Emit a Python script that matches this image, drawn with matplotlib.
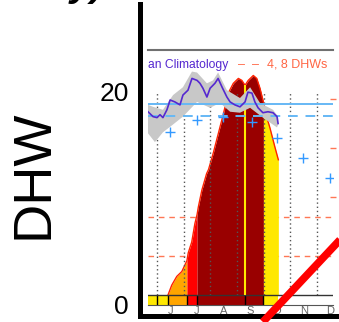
"""
DHW panel: embedded Coral Reef Watch style heat-stress chart on a DHW axis.
"""
import numpy as np
import matplotlib.pyplot as plt
from matplotlib.lines import Line2D

plt.rcParams['font.family'] = ['Liberation Sans', 'DejaVu Sans']

# ---- data (x in months from Jan 1, y in DHW) ----
outer_ticks = [0, 20]

dhw_x = [5.41, 5.55, 5.74, 5.93, 6.05, 6.12, 6.17, 6.30, 6.42, 6.50, 6.55, 6.68,
         6.86, 6.93, 7.11, 7.30, 7.49, 7.67, 7.86, 8.05, 8.18, 8.30, 8.42,
         8.61, 8.74, 8.86, 8.99, 9.11, 9.24, 9.42, 9.55]
dhw_y = [0.0, 1.0, 1.9, 2.4, 3.1, 3.5, 4.3, 5.4, 7.3, 8.2, 9.0, 10.7,
         12.4, 12.8, 14.5, 16.5, 18.5, 20.6, 21.6, 22.1, 21.9, 21.4, 21.9,
         22.4, 22.1, 21.1, 19.7, 18.2, 17.0, 15.1, 13.8]

# alert level boundaries along the curve and their colours
alert_edges = [5.41, 6.12, 6.50, 8.99, 9.55]
alert_colors = ['#FFA500', '#FF0000', '#990000', '#FFE800']

# daily alert strip under the chart
strip_edges = [4.66, 5.00, 5.41, 6.12, 6.50, 8.30, 8.99, 9.55]
strip_colors = ['#FFE800', '#FFE800', '#FFA500', '#FF0000', '#990000', '#990000', '#FFE800']
strip_marks = [5.00, 5.41, 6.12, 6.50, 8.30, 8.99]

today = 8.30
today_dhw = 21.4

sst_x = [4.66, 4.85, 5.00, 5.11, 5.22, 5.37, 5.49, 5.67, 5.86, 5.97, 6.16, 6.31,
         6.50, 6.61, 6.72, 6.87, 6.99, 7.17, 7.29, 7.44, 7.62, 7.74, 7.92,
         8.11, 8.30, 8.41, 8.56, 8.67, 8.79, 8.97, 9.16, 9.35, 9.50, 9.54]
sst_y = [18.7, 18.2, 18.1, 18.4, 18.1, 18.9, 19.9, 19.7, 19.4, 20.4, 20.9, 22.1,
         21.9, 21.6, 21.1, 20.2, 21.1, 21.6, 22.1, 21.2, 20.2, 19.7, 19.4,
         19.2, 19.7, 20.7, 20.6, 19.7, 19.1, 18.6, 18.7, 18.6, 18.2, 17.5]

band_hi_x = [4.66, 4.85, 5.22, 5.60, 5.97, 6.31, 6.50, 6.87, 7.10, 7.29, 7.62,
             8.11, 8.49, 8.86, 9.35, 9.54]
band_hi_y = [19.4, 19.2, 18.9, 20.4, 21.2, 22.8, 22.7, 21.6, 21.9, 22.7, 20.9,
             20.1, 21.2, 19.6, 18.9, 18.2]
band_lo_x = [4.66, 4.92, 5.22, 5.60, 5.97, 6.50, 6.99, 7.36, 7.74, 8.11, 8.49,
             8.97, 9.50, 9.54]
band_lo_y = [16.5, 15.6, 16.6, 17.4, 18.2, 19.7, 19.1, 19.6, 18.7, 18.6, 19.1,
             18.1, 17.1, 17.4]

clim_x = [5.49, 6.50, 7.47, 8.56, 9.50, 10.47, 11.49]
clim_y = [16.6, 17.9, 18.2, 17.7, 16.0, 14.0, 11.9]

mmm_level = 19.5
thresh_level = 18.3
dhw_levels = [4, 8]
right_ticks = [5, 10, 15, 20]

month_starts = [5, 6, 7, 8, 9, 10, 11]
month_mid = [5.5, 6.5, 7.5, 8.5, 9.5, 10.5, 11.5]
month_labels = ['J', 'J', 'A', 'S', 'O', 'N', 'D']

strike_x = [8.97, 12.3]
strike_y = [-2.75, 6.9]

W, H = 339, 322
fig = plt.figure(figsize=(W / 100, H / 100), dpi=100)

# ---- embedded chart ----
ax = fig.add_axes([148 / W, (H - 305) / H, (333 - 148) / W, (305 - 50) / H])
ax.set_zorder(1)
ax.set_xlim(4.66, 11.6)
ax.set_ylim(-1.02, 25)

x = np.array(dhw_x)
y = np.array(dhw_y)
for a, b, c in zip(alert_edges[:-1], alert_edges[1:], alert_colors):
    m = (x >= a) & (x <= b)
    ax.fill_between(x, 0, y, where=m, color=c, lw=0, zorder=1)
ax.plot(x, y, color='#FF2200', lw=1, zorder=2)

ax.hlines(dhw_levels, 4.66, 11.6, colors='#FF7755', linestyles=(0, (4, 3.5)), lw=1, zorder=0.5)
ax.vlines(month_starts, 0, 20.7, colors='#555555', linestyles=(0, (1, 2)), lw=1, zorder=2)
ax.vlines(today, 0, today_dhw, colors='#FFE800', lw=1.5, zorder=2.5)

ax.fill(list(band_hi_x) + band_lo_x[::-1], list(band_hi_y) + band_lo_y[::-1],
        color='#C8C8C8', lw=0, zorder=3)
ax.axhline(mmm_level, color='#66B8F5', lw=1.4, zorder=4)
ax.axhline(thresh_level, color='#66B8F5', lw=1.4, ls=(0, (5, 4)), zorder=4)
ax.plot(sst_x, sst_y, color='#5528D0', lw=1.2, zorder=5)
ax.plot(clim_x, clim_y, ls='none', marker='+', ms=7, mew=1, color='#3399FF', zorder=5)

widths = np.diff(strip_edges)
ax.bar(strip_edges[:-1], 1.02, width=widths, bottom=-1.02, align='edge',
       color=strip_colors, lw=0, zorder=1)
ax.vlines(strip_marks, -1.02, 0, colors='black', lw=1, zorder=2)
ax.axhline(0, color='#333333', lw=1, zorder=2)

# legend fragments at the top of the embedded chart
ax.text(4.66, 23.5, 'an Climatology', color='#5528D0', fontsize=8.7, va='center')
ax.text(8.03, 23.5, '\u2013  \u2013', color='#FF6644', fontsize=9, va='center')
ax.text(9.12, 23.5, '4, 8 DHWs', color='#FF6644', fontsize=9, va='center')

ax.set_xticks(month_mid)
ax.set_xticklabels(month_labels, color='#666666', fontsize=8)
ax.tick_params(axis='x', length=0, pad=1)
ax.yaxis.tick_right()
ax.set_yticks(right_ticks)
ax.tick_params(axis='y', right=True, labelright=False, length=4, width=1,
               color='#FF7755', direction='inout')
for s in ['left', 'right']:
    ax.spines[s].set_visible(False)
ax.spines['top'].set_color('#707070')
ax.spines['top'].set_linewidth(1.5)
ax.spines['bottom'].set_color('#555555')
ax.spines['bottom'].set_linewidth(0.8)

# ---- outer DHW axes ----
ox = fig.add_axes([140 / W, (H - 316) / H, 1 - 140 / W, 312 / H])
ox.set_zorder(2)
ox.patch.set_visible(False)
ox.set_ylim(-1.033, 28.26)
ox.set_xlim(0, 1)
ox.set_xticks([])
ox.set_yticks(outer_ticks)
ox.tick_params(axis='y', length=0, pad=8, labelsize=19)
for s in ['top', 'right']:
    ox.spines[s].set_visible(False)
for s in ['left', 'bottom']:
    ox.spines[s].set_linewidth(3.6)

fig.text(33 / W, 1 - 174 / H, 'DHW', rotation=90, fontsize=39, ha='center', va='center')
fig.text(70 / W, 1 + 4 / H, 'y)', fontsize=28, fontweight='bold', style='italic',
         ha='left', va='baseline')

fig.add_artist(Line2D(strike_x, strike_y, transform=ax.transData, color='#FF0000',
                      lw=5.5, solid_capstyle='butt', zorder=10))

fig.savefig('out.png', dpi=100)
